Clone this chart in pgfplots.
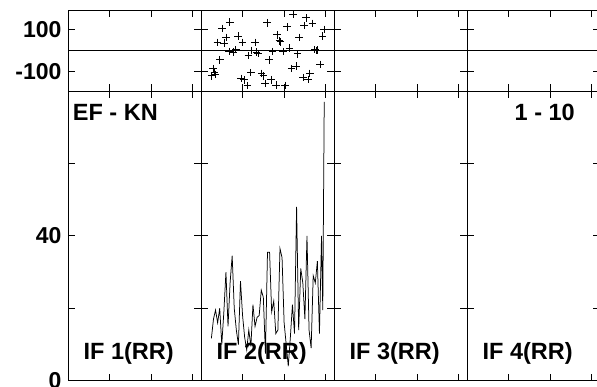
\documentclass[border=0pt]{standalone}
\usepackage{fontspec}
\setmainfont{Liberation Sans}
\usepackage{pgfplots}
\pgfplotsset{compat=1.18}
\pgfplotsset{
  panel/.style={
    scale only axis, width=133bp,
    xmin=0, xmax=64, xtick={20,40,60}, xticklabels={},
    tick pos=both, tick align=inside, major tick length=7bp,
    axis line style={line width=0.8bp, black},
    every tick/.style={line width=0.8bp, black},
    tick label style={font=\fontsize{23bp}{26bp}\selectfont\bfseries},
    yticklabel style={xshift=-3bp},
    clip=false,
  },
  toprow/.style={panel, height=81bp, ymin=-190, ymax=190, ytick={-100,100}},
  botrow/.style={panel, height=289.7bp, ymin=0, ymax=80, ytick={0,20,40,60}},
}
\newcommand{\lab}{\fontsize{23.5bp}{26bp}\selectfont\bfseries}
\begin{document}
\begin{tikzpicture}
% ---------- top row ----------
\begin{axis}[toprow, at={(68bp,-10bp)}, anchor=north west, yticklabels={-100,100}]
\addplot[black, line width=0.8bp, no marks] coordinates {(0,0) (64,0)};
\end{axis}
\begin{axis}[toprow, at={(201bp,-10bp)}, anchor=north west, yticklabels={}]
\addplot[black, line width=0.8bp, no marks] coordinates {(0,0) (64,0)};
\addplot[only marks, mark=+, mark size=3.8bp, black, mark options={line width=0.85bp}] coordinates {
(5.1,-119) (5.9,-85) (6.4,-101) (6.7,-113) (7.9,38) (9.1,-44) (10.1,104) (11.2,35)
(12,61) (13.6,-5) (13.9,134) (15.6,-8) (16.8,4) (17.9,68) (19.3,-131) (20,38)
(20.7,-137) (22.3,-165) (22.8,-24) (24,-104) (24.4,0) (26,38) (26.8,-8) (27.5,-15)
(29.2,-107) (30,-119) (30.8,-154) (31.8,130) (32.7,-44) (33.7,-137) (34.5,-5) (36.1,-162)
(36.7,74) (37.7,45) (38.3,41) (39.6,-5) (40.4,-165) (41.5,111) (42.5,12) (43.6,-85)
(44.4,168) (45.7,-73) (46.5,-16) (47.3,61) (49.2,-127) (49.6,117) (50.5,153) (51.6,-136)
(52.4,-108) (53.7,127) (54.8,4) (55.7,0) (56,2) (57.3,-65) (58.5,68) (59.3,99)
};
\end{axis}
\begin{axis}[toprow, at={(334bp,-10bp)}, anchor=north west, yticklabels={}]
\addplot[black, line width=0.8bp, no marks] coordinates {(0,0) (64,0)};
\end{axis}
\begin{axis}[toprow, at={(467bp,-10bp)}, anchor=north west, yticklabels={}]
\addplot[black, line width=0.8bp, no marks] coordinates {(0,0) (64,0)};
\end{axis}
% ---------- bottom row ----------
\begin{axis}[botrow, at={(68bp,-91bp)}, anchor=north west, yticklabels={0,,40,}]
\end{axis}
\begin{axis}[botrow, at={(201bp,-91bp)}, anchor=north west, yticklabels={}]
\addplot[black, line width=0.75bp, no marks] coordinates {
(5,11.7) (6,17) (7,19.5) (8,16) (9,20) (10,10) (11,19) (12,30) (13,15) (14,27)
(15,34.5) (16,20) (17,14) (18,10) (19,27.5) (20,18) (21,12) (22,8.5) (23,14) (24,9.5)
(25,21) (26,15) (27,17.5) (28,18) (29,25) (30,23) (31,7.5) (32,35.5) (33,35.5) (34,19)
(35,22) (36,13) (37,14) (38,36.5) (39,34) (40,16) (41,10) (42,4) (43,12) (44,21)
(45,13) (46,48) (47,14) (48,31) (49,27) (50,17) (51,40) (52,14) (53,9) (54,29)
(55,27) (56,33) (57,13) (58,40) (58.6,19.5) (59.3,77)
};
\end{axis}
\begin{axis}[botrow, at={(334bp,-91bp)}, anchor=north west, yticklabels={}]
\end{axis}
\begin{axis}[botrow, at={(467bp,-91bp)}, anchor=north west, yticklabels={}]
\end{axis}
% ---------- labels ----------
\node[anchor=base west, inner sep=0pt] at (72.7bp,-120bp) {\lab EF - KN};
\node[anchor=base east, inner sep=0pt] at (575bp,-120bp) {\lab 1 - 10};
\node[anchor=base west, inner sep=0pt] at (83.5bp,-359.3bp) {\lab IF 1(RR)};
\node[anchor=base west, inner sep=0pt] at (216.5bp,-359.3bp) {\lab IF 2(RR)};
\node[anchor=base west, inner sep=0pt] at (349.5bp,-359.3bp) {\lab IF 3(RR)};
\node[anchor=base west, inner sep=0pt] at (482.5bp,-359.3bp) {\lab IF 4(RR)};
\pgfresetboundingbox
\path[use as bounding box] (0bp,0bp) rectangle (597bp,-387bp);
\end{tikzpicture}
\end{document}
